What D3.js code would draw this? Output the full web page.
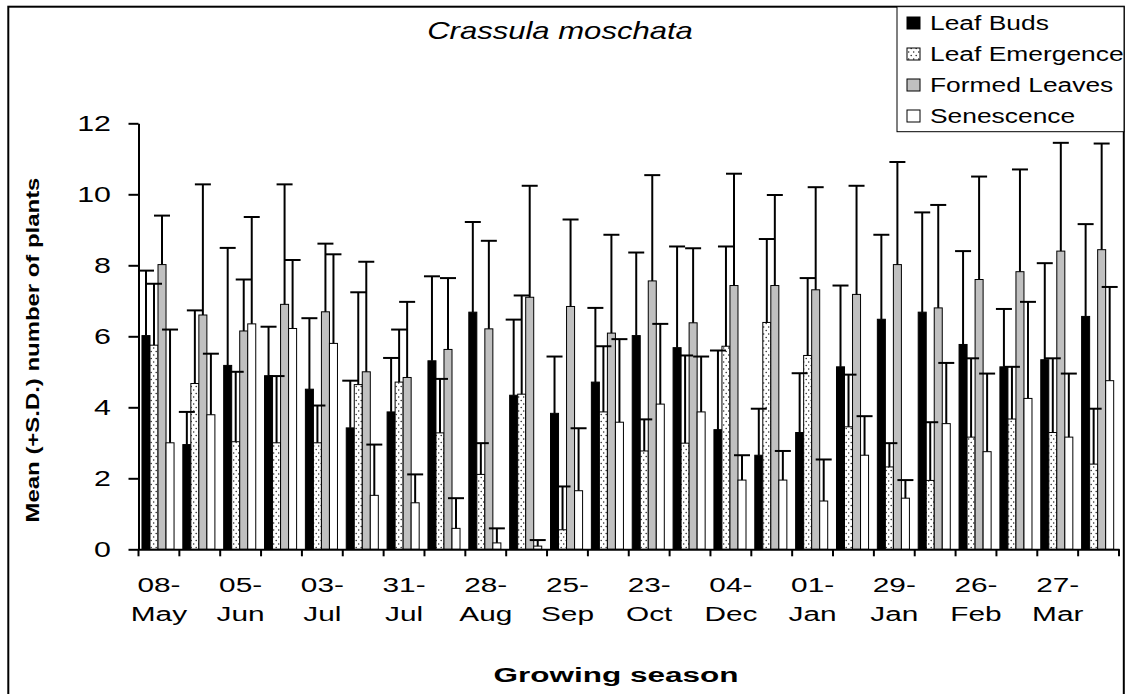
<!DOCTYPE html>
<html>
<head>
<meta charset="utf-8">
<script src="https://cdn.jsdelivr.net/npm/d3@7/dist/d3.min.js"></script>
<style>
  body { margin: 0; background: #fff; }
  svg { display: block; font-family: Arial, "Liberation Sans", sans-serif; }
</style>
</head>
<body>
<div id="chart"></div>
<script>
// 24 fortnightly samplings, only every other one carries a label on the axis
const sampling = [1, 2, 3, 4, 5, 6, 7, 8, 9, 10, 11, 12, 13, 14, 15, 16, 17, 18, 19, 20, 21, 22, 23, 24];
const tickLabels = [
  ["08-", "May"], ["05-", "Jun"], ["03-", "Jul"], ["31-", "Jul"], ["28-", "Aug"], ["25-", "Sep"],
  ["23-", "Oct"], ["04-", "Dec"], ["01-", "Jan"], ["29-", "Jan"], ["26-", "Feb"], ["27-", "Mar"]
];
const seriesNames = ["Leaf Buds", "Leaf Emergence", "Formed Leaves", "Senescence"];
const yTicks = [0, 2, 4, 6, 8, 10, 12];

const leafBuds = [6.02, 2.95, 5.18, 4.89, 4.51, 3.42, 3.87, 5.31, 6.68, 4.34, 3.83, 4.71,
  6.02, 5.68, 3.37, 2.65, 3.29, 5.14, 6.48, 6.68, 5.77, 5.14, 5.34, 6.56];
const leafBudsSD = [1.83, 0.92, 3.31, 1.38, 2.00, 1.33, 1.52, 2.38, 2.54, 2.13, 1.60, 2.09,
  2.34, 2.85, 2.23, 1.31, 1.67, 2.29, 2.38, 2.81, 2.63, 1.63, 2.72, 2.60];

const leafEmergence = [5.75, 4.67, 3.03, 3.00, 3.00, 4.64, 4.71, 3.28, 2.11, 4.37, 0.55, 3.87,
  2.77, 2.99, 5.72, 6.39, 5.46, 3.45, 2.32, 1.94, 3.16, 3.67, 3.29, 2.40];
const leafEmergenceSD = [1.73, 2.06, 1.97, 1.88, 1.05, 2.60, 1.48, 1.52, 0.88, 2.78, 1.22, 1.85,
  0.89, 2.47, 2.81, 2.35, 2.18, 1.47, 0.67, 1.64, 2.22, 1.47, 2.09, 1.56];

const formedLeaves = [8.02, 6.60, 6.15, 6.90, 6.69, 5.00, 4.84, 5.63, 6.21, 7.10, 6.84, 6.09,
  7.56, 6.38, 7.43, 7.43, 7.31, 7.18, 8.02, 6.80, 7.60, 7.82, 8.40, 8.44];
const formedLeavesSD = [1.38, 3.68, 1.45, 3.38, 1.92, 3.10, 2.13, 2.01, 2.48, 3.14, 2.45, 2.77,
  2.98, 2.10, 3.15, 2.55, 2.89, 3.06, 2.89, 2.90, 2.90, 2.88, 3.05, 2.99];

const senescence = [3.00, 3.79, 6.35, 6.22, 5.80, 1.52, 1.31, 0.59, 0.18, 0.09, 1.65, 3.58,
  4.09, 3.87, 1.95, 1.95, 1.36, 2.65, 1.44, 3.54, 2.75, 4.25, 3.16, 4.75];
const senescenceSD = [3.19, 1.72, 3.01, 1.93, 2.51, 1.43, 0.80, 0.85, 0.41, 0.17, 1.76, 2.34,
  2.26, 1.56, 0.70, 0.82, 1.17, 1.10, 0.51, 1.71, 2.20, 2.72, 1.79, 2.64];

const means = [leafBuds, leafEmergence, formedLeaves, senescence];
const sds = [leafBudsSD, leafEmergenceSD, formedLeavesSD, senescenceSD];
const fills = ["#000000", "url(#dots)", "#c0c0c0", "#ffffff"];

const rows = [];
sampling.forEach((s, i) => {
  seriesNames.forEach((name, k) => {
    rows.push({ sampling: s, series: name, k, mean: means[k][i], sd: sds[k][i] });
  });
});

const width = 1127;
const height = 694;

const svg = d3.select("#chart")
  .append("svg")
  .attr("width", width)
  .attr("height", height);

const defs = svg.append("defs");
const pat = defs.append("pattern")
  .attr("id", "dots")
  .attr("width", 5)
  .attr("height", 7)
  .attr("patternUnits", "userSpaceOnUse");
pat.append("rect").attr("width", 5).attr("height", 7).attr("fill", "#fff");
pat.append("circle").attr("cx", 1.2).attr("cy", 1.5).attr("r", 0.75).attr("fill", "#222");
pat.append("circle").attr("cx", 3.7).attr("cy", 5).attr("r", 0.75).attr("fill", "#222");

// outer frame (bottom edge runs off the picture)
svg.append("rect")
  .attr("x", 8.3).attr("y", 6.7)
  .attr("width", 1115.5).attr("height", 710)
  .attr("fill", "none").attr("stroke", "#000").attr("stroke-width", 2);

const x0 = d3.scaleBand()
  .domain(sampling)
  .range([138.5, 1119])
  .padding(0);

const x1 = d3.scaleBand()
  .domain(seriesNames)
  .range([x0.bandwidth() * 0.085, x0.bandwidth() * 0.87]);

const y = d3.scaleLinear()
  .domain([0, 12])
  .range([549.3, 123.3]);

// stretched text helper: the reference type is drawn wide
function wide(sel, x, yy, sx) {
  return sel.attr("transform", `translate(${x},${yy}) scale(${sx},1)`);
}

// bars
svg.append("g")
  .selectAll("rect")
  .data(rows)
  .join("rect")
  .attr("x", (d) => x0(d.sampling) + x1(d.series))
  .attr("y", (d) => y(d.mean))
  .attr("width", x1.bandwidth())
  .attr("height", (d) => y(0) - y(d.mean))
  .attr("fill", (d) => fills[d.k])
  .attr("stroke", "#000")
  .attr("stroke-width", 1);

// error bars (+SD only)
const err = svg.append("g")
  .attr("stroke", "#000")
  .attr("stroke-width", 2)
  .selectAll("g")
  .data(rows)
  .join("g")
  .attr("transform", (d) => `translate(${x0(d.sampling) + x1(d.series) + x1.bandwidth() / 2},0)`);

err.append("line")
  .attr("x1", 0).attr("x2", 0)
  .attr("y1", (d) => y(d.mean))
  .attr("y2", (d) => y(d.mean + d.sd));

err.append("line")
  .attr("x1", -8).attr("x2", 8)
  .attr("y1", (d) => y(d.mean + d.sd))
  .attr("y2", (d) => y(d.mean + d.sd));

// y axis
const yAxis = svg.append("g")
  .attr("transform", "translate(138.5,0)")
  .call(d3.axisLeft(y).tickValues(yTicks).tickSize(10).tickSizeOuter(0).tickFormat(""));
yAxis.selectAll("path, line").attr("stroke", "#000").attr("stroke-width", 2);

svg.append("g")
  .selectAll("text")
  .data(yTicks)
  .join("text")
  .attr("text-anchor", "end")
  .attr("font-size", 22)
  .attr("fill", "#000")
  .each(function (d) { wide(d3.select(this), 111, y(d) + 8, 1.38); })
  .text((d) => d);

// x axis
const xAxis = svg.append("g")
  .attr("transform", `translate(0,${y(0)})`)
  .call(d3.axisBottom(x0).tickSize(0).tickSizeOuter(0).tickFormat(""));
xAxis.select(".domain").attr("stroke", "#000").attr("stroke-width", 2);

svg.append("g")
  .selectAll("line")
  .data([...sampling.map((s) => x0(s)), x0.range()[1]])
  .join("line")
  .attr("x1", (d) => d).attr("x2", (d) => d)
  .attr("y1", y(0)).attr("y2", y(0) + 7)
  .attr("stroke", "#000").attr("stroke-width", 2);

const xLab = svg.append("g")
  .selectAll("text")
  .data(tickLabels)
  .join("text")
  .attr("text-anchor", "middle")
  .attr("font-size", 21)
  .attr("fill", "#000")
  .each(function (d, i) {
    const s = sampling[i * 2];
    wide(d3.select(this), x0(s) + x0.bandwidth() / 2, 591.5, 1.42);
  });
xLab.append("tspan").attr("x", 0).attr("y", 0).text((d) => d[0]);
xLab.append("tspan").attr("x", 0).attr("y", 30).text((d) => d[1]);

// titles
wide(svg.append("text"), 560, 39, 1.35)
  .attr("text-anchor", "middle")
  .attr("font-size", 23)
  .attr("font-style", "italic")
  .text("Crassula moschata");

wide(svg.append("text"), 616, 682, 1.5)
  .attr("text-anchor", "middle")
  .attr("font-size", 21)
  .attr("font-weight", "bold")
  .text("Growing season");

svg.append("text")
  .attr("transform", "translate(39,350) rotate(-90) scale(1.33,1)")
  .attr("text-anchor", "middle")
  .attr("font-size", 18)
  .attr("font-weight", "bold")
  .text("Mean (+S.D.) number of plants");

// legend
const legend = svg.append("g");
legend.append("rect")
  .attr("x", 897).attr("y", 6.7)
  .attr("width", 227).attr("height", 125)
  .attr("fill", "#fff").attr("stroke", "#000").attr("stroke-width", 1);

const item = legend.selectAll("g.item")
  .data(seriesNames)
  .join("g")
  .attr("class", "item")
  .attr("transform", (d, i) => `translate(0,${23 + i * 31})`);

item.append("rect")
  .attr("x", 907).attr("y", -6)
  .attr("width", 13).attr("height", 12)
  .attr("fill", (d, i) => fills[i])
  .attr("stroke", "#000").attr("stroke-width", 1);

item.append("text")
  .attr("font-size", 20)
  .attr("fill", "#000")
  .attr("transform", "translate(930,7) scale(1.32,1)")
  .text((d) => d);
</script>
</body>
</html>
